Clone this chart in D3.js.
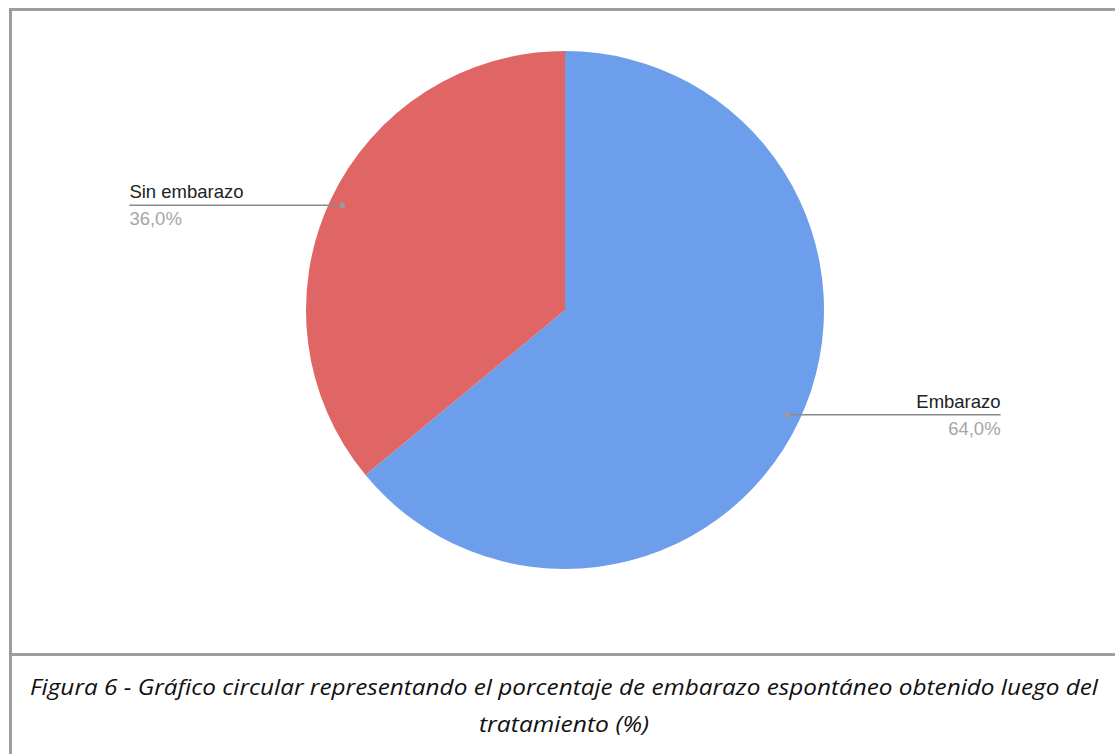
<!DOCTYPE html>
<html><head><meta charset="utf-8">
<script src="https://cdn.jsdelivr.net/npm/d3@7"></script>
<style>html,body{margin:0;padding:0;background:#fff;}svg{display:block;}</style>
</head><body>
<svg id="chart" width="1115" height="754"></svg>
<script>
const categories = ["Embarazo", "Sin embarazo"];
const values = [64.0, 36.0];
const colors = ["#6d9eeb", "#e06666"];
const captionLines = ["Figura 6 - Gráfico circular representando el porcentaje de embarazo espontáneo obtenido luego del", "tratamiento (%)"];

const svg = d3.select("#chart");
const W = 1115, H = 754;
const cx = 565, cy = 310, r = 259;

// frame
const frame = svg.append("g").attr("stroke", "#9e9e9e").attr("stroke-width", 3).attr("fill", "none");
frame.append("line").attr("x1", 10.5).attr("y1", 8).attr("x2", 10.5).attr("y2", H);
frame.append("line").attr("x1", 9).attr("y1", 9.5).attr("x2", W).attr("y2", 9.5);
frame.append("line").attr("x1", 9).attr("y1", 654.5).attr("x2", W).attr("y2", 654.5);

const pie = d3.pie().sort(null).value(d => d)(values);
const arc = d3.arc().innerRadius(0).outerRadius(r);
const g = svg.append("g").attr("transform", `translate(${cx},${cy})`);
g.selectAll("path").data(pie).join("path")
  .attr("d", arc)
  .attr("fill", (d, i) => colors[i]);

// labels
const fmt = v => v.toFixed(1).replace(".", ",") + "%";
const labelArc = d3.arc().innerRadius(r * 0.95).outerRadius(r * 0.95);
const lineLen = 213;
pie.forEach((d, i) => {
  const [px, py] = labelArc.centroid(d);
  const right = px > 0;
  const ex = right ? px + lineLen : px - lineLen;
  g.append("line").attr("x1", px).attr("y1", py).attr("x2", ex).attr("y2", py)
    .attr("stroke", "#8a8a8a").attr("stroke-width", 1.4);
  g.append("circle").attr("cx", px).attr("cy", py).attr("r", 2.8).attr("fill", "#9a9a9a");
  const anchor = right ? "end" : "start";
  g.append("text").attr("x", ex).attr("y", py - 7)
    .attr("text-anchor", anchor)
    .attr("font-family", "Liberation Sans, Arial, sans-serif")
    .attr("font-size", 18.5).attr("fill", "#222")
    .text(categories[i]);
  g.append("text").attr("x", ex).attr("y", py + 20)
    .attr("text-anchor", anchor)
    .attr("font-family", "Liberation Sans, Arial, sans-serif")
    .attr("font-size", 18.5).attr("fill", "#a6a6a6")
    .text(fmt(d.data));
});

// caption
const capWidths = [1068, 170];
captionLines.forEach((t, i) => {
  svg.append("text").attr("x", 564).attr("y", 695 + i * 37)
    .attr("text-anchor", "middle")
    .attr("font-family", "'Open Sans', sans-serif")
    .attr("font-style", "italic")
    .attr("font-size", 22.5).attr("fill", "#111")
    .attr("textLength", capWidths[i])
    .attr("lengthAdjust", "spacingAndGlyphs")
    .text(t);
});
</script>
</body></html>
